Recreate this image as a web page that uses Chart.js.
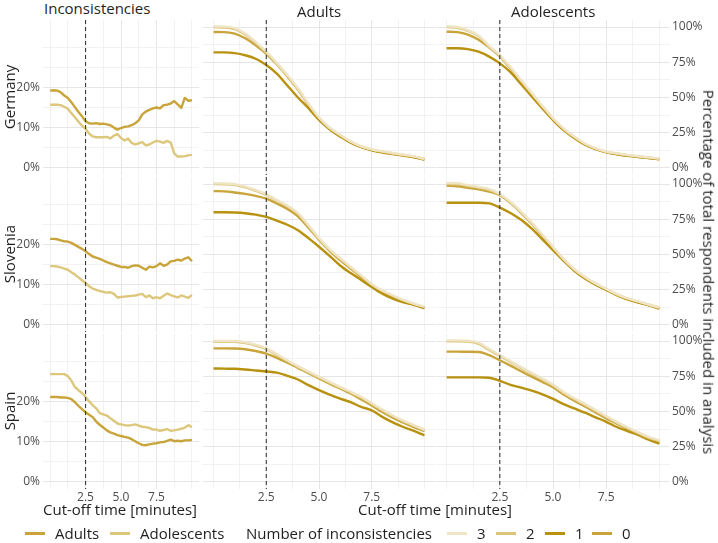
<!DOCTYPE html>
<html><head><meta charset="utf-8">
<script src="https://cdn.jsdelivr.net/npm/chart.js@4"></script>
<style>
html,body{margin:0;padding:0;background:#fff;}
body{width:718px;height:543px;position:relative;overflow:hidden;font-family:'Open Sans',sans-serif;}
canvas{position:absolute;}
.t{position:absolute;white-space:nowrap;color:#1f1f1f;font-size:15px;line-height:18px;}
.sw{position:absolute;width:20px;height:2.5px;}
</style></head><body>
<script>
// ---------- data ----------
const cutoffFine = [0,0.25,0.5,0.75,1,1.25,1.5,1.75,2,2.25,2.5,2.75,3,3.25,3.5,3.75,4,4.25,4.5,4.75,5,5.25,5.5,5.75,6,6.25,6.5,6.75,7,7.25,7.5,7.75,8,8.25,8.5,8.75,9,9.25,9.5,9.75,10];
const cutoffCoarse = [0,0.5,1,1.5,2,2.5,3,3.5,4,4.5,5,5.5,6,6.5,7,7.5,8,8.5,9,9.5,10];
const cutoffMarker = 2.5;
const xTickValues = [2.5,5,7.5];
const xTickLabels = ['2.5','5.0','7.5'];
const leftTickValues = [0,10,20];
const leftTickLabels = ['0%','10%','20%'];
const rightTickValues = [0,25,50,75,100];
const rightTickLabels = ['0%','25%','50%','75%','100%'];
const countries = ['Germany','Slovenia','Spain'];
const groups = ['Adults','Adolescents'];
const inconsistencyLevels = ['3','2','1','0'];

// Inconsistencies (% of respondents) by cut-off time
const deAdultsIncons = [19.2,19.3,19.2,18.8,18.0,17.4,16.3,15.1,13.9,12.8,11.6,11.1,11.0,11.1,10.9,11.0,10.8,10.6,10.0,9.5,9.9,10.2,10.3,10.6,11.1,11.8,13.3,14.0,14.4,14.8,15.0,14.8,15.6,15.7,16.0,16.6,15.8,14.9,17.4,16.7,16.8];
const deAdolIncons = [15.7,15.7,15.7,15.6,15.2,14.7,13.6,12.6,11.5,10.5,9.7,8.5,7.8,7.6,7.6,7.6,7.7,7.3,8.0,8.4,7.4,6.8,7.3,6.2,5.8,6.1,6.4,5.6,5.8,6.3,6.7,6.5,6.2,6.7,6.3,3.6,2.8,2.8,2.9,3.1,3.2];
const siAdultsIncons = [21.4,21.4,21.3,21.0,20.8,20.7,20.4,19.9,19.4,18.9,18.3,17.6,17.0,16.7,16.4,16.0,15.6,15.3,15.0,14.7,14.4,14.4,14.2,14.6,14.8,14.7,14.2,13.7,14.5,14.3,14.6,15.3,14.7,15.0,15.8,15.9,16.2,16.0,16.5,16.8,15.8];
const siAdolIncons = [14.6,14.6,14.5,14.3,14.0,13.7,13.1,12.5,11.8,11.1,10.4,9.6,9.0,8.7,8.4,8.2,8.0,8.1,7.7,6.8,6.9,7.0,7.1,7.2,7.3,7.5,7.7,6.9,7.3,6.6,6.9,6.6,7.2,7.8,7.4,7.1,6.8,7.3,7.0,6.7,7.4];
const esAdultsIncons = [21.1,21.1,21.1,21.0,21.0,20.9,20.6,19.8,18.9,18.1,17.3,16.7,16.1,15.0,14.2,13.5,12.8,12.3,12.0,11.6,11.4,11.2,11.0,10.6,10.1,9.6,9.2,9.1,9.3,9.5,9.6,9.8,9.9,10.2,10.5,10.1,10.2,10.1,10.3,10.3,10.4];
const esAdolIncons = [26.8,26.8,26.8,26.8,26.8,26.3,25.2,23.6,22.8,22.1,21.1,20.0,19.1,18.3,17.1,16.8,16.5,15.8,15.2,14.5,14.3,14.1,14.0,14.1,14.3,14.0,13.7,13.6,13.4,13.0,13.0,12.7,12.9,13.1,12.7,12.8,13.0,13.2,13.5,14.1,13.6];

// Percentage of total respondents included, by number of inconsistencies
const deAdults3 = [100.4,100.3,99.3,95.5,89.5,82.5,74.6,66.0,56.6,45.7,35.9,28.7,23.6,18.9,15.5,13.3,11.8,10.6,9.5,8.2,6.5];
const deAdults2 = [99.8,99.7,98.6,94.8,88.8,82.0,74.1,65.5,56.1,45.2,35.5,28.3,23.2,18.6,15.2,13.0,11.5,10.3,9.2,8.0,6.3];
const deAdults1 = [82.0,82.0,81.5,80.0,77.5,73.1,67.0,58.5,50.0,42.5,34.1,27.5,22.3,18.0,14.7,12.5,11.0,9.8,8.8,7.6,6.0];
const deAdults0 = [96.5,96.4,95.3,92.0,87.0,81.0,73.6,65.0,55.6,44.8,35.2,28.0,22.9,18.4,15.0,12.8,11.3,10.1,9.0,7.8,6.1];
const deAdol3 = [100.5,100.0,97.8,94.0,86.6,80.1,71.6,62.4,53.3,44.2,35.4,28.1,22.3,17.4,14.1,11.7,10.4,9.3,8.4,7.5,6.7];
const deAdol2 = [100.0,99.5,97.3,93.5,86.0,79.6,71.0,61.8,52.7,43.6,34.9,27.6,21.9,17.0,13.8,11.4,10.1,9.0,8.1,7.3,6.5];
const deAdol1 = [84.9,85.0,84.3,82.5,79.0,74.2,68.0,59.5,50.8,42.3,34.0,26.8,21.2,16.5,13.3,11.0,9.7,8.6,7.8,7.0,6.2];
const deAdol0 = [96.7,96.4,94.7,91.0,85.5,79.2,70.6,61.4,52.2,43.1,34.5,27.2,21.5,16.8,13.6,11.2,9.9,8.8,7.9,7.1,6.3];
const siAdults3 = [100.5,100.4,99.9,98.2,95.8,92.9,88.8,84.7,79.5,70.8,61.7,53.8,47.4,41.3,35.2,29.1,24.5,21.1,17.8,15.2,12.9];
const siAdults2 = [100.0,99.9,99.4,97.7,95.2,92.3,88.2,84.1,78.9,70.2,61.1,53.2,46.9,40.8,34.8,28.7,24.1,20.7,17.4,14.9,12.6];
const siAdults1 = [80.0,80.0,79.8,79.3,78.3,76.7,74.0,71.1,67.2,61.6,55.5,49.0,42.2,36.8,31.9,26.9,22.2,18.6,16.0,14.3,11.9];
const siAdults0 = [95.0,94.8,94.0,93.0,91.6,89.6,86.2,82.3,77.1,69.1,60.5,52.6,46.0,40.0,34.0,28.1,23.6,19.6,16.5,14.3,12.4];
const siAdol3 = [100.7,100.6,99.3,98.0,96.5,92.9,87.5,80.5,72.7,64.1,55.5,46.9,39.7,34.1,29.5,25.7,21.9,19.0,16.7,14.5,12.4];
const siAdol2 = [100.0,99.9,98.6,97.4,95.7,92.4,87.0,80.0,72.2,63.7,55.0,46.5,39.3,33.8,29.2,25.4,21.7,18.7,16.5,14.4,12.2];
const siAdol1 = [86.7,86.7,86.7,86.7,86.3,83.3,79.5,74.6,68.3,60.7,53.1,45.5,38.5,33.0,28.6,24.9,21.2,18.2,15.9,13.9,11.6];
const siAdol0 = [98.8,98.4,97.3,96.2,94.6,92.1,86.6,79.6,71.8,63.2,54.5,46.0,38.9,33.4,28.8,25.0,21.3,18.4,16.2,14.1,12.0];
const esAdults3 = [100.0,100.0,100.0,99.1,97.4,94.8,90.8,86.4,82.2,78.4,74.7,71.0,67.5,64.1,60.4,56.0,51.4,47.2,43.5,40.4,37.2];
const esAdults2 = [99.5,99.5,99.4,98.5,96.8,94.2,90.2,85.8,81.6,77.8,74.1,70.4,66.9,63.5,59.8,55.4,50.8,46.6,42.9,39.8,36.6];
const esAdults1 = [80.5,80.4,80.3,79.8,79.1,78.4,77.6,75.3,72.7,68.7,65.2,62.0,59.2,56.6,53.3,50.8,46.2,42.3,39.0,36.2,33.1];
const esAdults0 = [94.8,94.8,94.7,94.2,92.9,91.1,88.1,84.6,81.0,77.2,73.5,69.8,66.3,62.8,58.6,54.3,49.6,45.6,42.0,38.9,36.1];
const esAdol3 = [100.5,100.5,100.3,98.8,94.3,90.1,85.8,81.5,77.4,73.3,69.1,63.9,59.4,55.4,51.1,46.8,42.6,38.8,35.3,32.0,29.6];
const esAdol2 = [99.8,99.8,99.6,98.0,93.6,89.4,85.1,80.8,76.7,72.6,68.4,63.2,58.7,54.7,50.3,46.1,41.9,38.1,34.6,31.2,28.9];
const esAdol1 = [74.2,74.2,74.2,74.2,74.0,71.8,68.9,66.9,64.8,62.2,59.0,55.2,52.2,49.2,45.9,42.7,39.0,36.1,33.4,30.0,27.2];
const esAdol0 = [92.5,92.5,92.4,92.2,90.0,86.4,82.6,78.6,74.7,71.0,67.2,62.1,57.6,53.6,49.4,45.1,41.3,37.5,33.9,30.3,27.7];

// ---------- styling ----------
const groupColors = {Adults:'#C9A43A', Adolescents:'#DDC77C'};
const levelColors = {'3':'#EFE5C6','2':'#DCC57A','1':'#B8910F','0':'#C9A43A'};
const FONT = "'Open Sans', sans-serif";
const TICK_COLOR = '#4D4D4D';
const xGridValues = [0,1.25,2.5,3.75,5,6.25,7.5,8.75,10];
const leftGridValues = [0,5,10,15,20,25,30];
const rightGridValues = [0,12.5,25,37.5,50,62.5,75,87.5,100];

const cols = { L:{left:0, axis:43, width:156}, M:{left:203, axis:0, width:232}, R:{left:436, axis:48, width:234} };
const rowTops = [20,177,334];
const PANEL_H = 155;
const XAXIS_H = 24;

const cutoffPlugin = {
  id:'cutoffLine',
  afterDatasetsDraw(chart){
    const {ctx, chartArea, scales} = chart;
    const px = scales.x.getPixelForValue(cutoffMarker);
    ctx.save();
    ctx.strokeStyle = '#3a3a3a'; ctx.lineWidth = 1.1; ctx.setLineDash([4,3]);
    ctx.beginPath(); ctx.moveTo(px, chartArea.top); ctx.lineTo(px, chartArea.bottom); ctx.stroke();
    ctx.restore();
  }
};

function zeroPad(s){ s.paddingLeft = 0; s.paddingRight = 0; s.paddingTop = 0; s.paddingBottom = 0; }
function gridColorFor(majors){ return c => (c.tick && majors.includes(c.tick.value)) ? '#E6E6E6' : '#F0F0F0'; }
function labelFor(values, labels){ return v => { const i = values.indexOf(v); return i >= 0 ? labels[i] : ''; }; }

function makePanel(col, row, datasets, yKind){
  const c = cols[col];
  const showX = row === 2;
  const canvas = document.createElement('canvas');
  const w = c.axis + c.width;
  const h = PANEL_H + (showX ? XAXIS_H : 0);
  canvas.width = w; canvas.height = h;
  canvas.style.left = c.left + 'px'; canvas.style.top = rowTops[row] + 'px';
  canvas.style.width = w + 'px'; canvas.style.height = h + 'px';
  document.body.appendChild(canvas);
  const isLeft = yKind === 'left';
  const yMin = isLeft ? -1.8 : -5, yMax = isLeft ? 36.8 : 105;
  const yGrid = isLeft ? leftGridValues : rightGridValues;
  const yMajor = isLeft ? leftTickValues : rightTickValues;
  const yLabels = isLeft ? leftTickLabels : rightTickLabels;
  const showY = col !== 'M';
  new Chart(canvas, {
    type:'line',
    data:{ datasets },
    options:{
      responsive:false, animation:false, devicePixelRatio:1,
      layout:{ padding:0 },
      plugins:{ legend:{display:false}, title:{display:false}, tooltip:{enabled:false} },
      elements:{ point:{ radius:0 } },
      scales:{
        x:{
          type:'linear', min:-0.5, max:10.5,
          afterBuildTicks: s => { s.ticks = xGridValues.map(v => ({value:v})); },
          ticks:{ display:showX, autoSkip:false, maxRotation:0, padding:1, color:TICK_COLOR,
                  font:{family:FONT, size:12}, callback: labelFor(xTickValues, xTickLabels) },
          grid:{ drawTicks:false, color: gridColorFor(xTickValues), lineWidth: c2 => (c2.tick && xTickValues.includes(c2.tick.value)) ? 1 : 0.9 },
          border:{ display:false },
          afterFit: s => { s.height = showX ? XAXIS_H : 0; zeroPad(s); }
        },
        y:{
          type:'linear', min:yMin, max:yMax, position: col === 'R' ? 'right' : 'left',
          afterBuildTicks: s => { s.ticks = yGrid.map(v => ({value:v})); },
          ticks:{ display:showY, autoSkip:false, padding: col === 'R' ? 2 : 3, color:TICK_COLOR,
                  font:{family:FONT, size:12}, callback: labelFor(yMajor, yLabels) },
          grid:{ drawTicks:false, color: gridColorFor(yMajor), lineWidth: c2 => (c2.tick && yMajor.includes(c2.tick.value)) ? 1 : 0.9 },
          border:{ display:false },
          afterFit: s => { s.width = c.axis; zeroPad(s); }
        }
      }
    },
    plugins:[cutoffPlugin]
  });
}

function series(xs, ys, color, smooth){
  return { data: xs.map((x,i) => ({x, y: ys[i]})), borderColor: color, borderWidth: 2.4,
           pointRadius:0, fill:false, tension: 0, cubicInterpolationMode: smooth ? 'monotone' : 'default',
           borderJoinStyle:'round', borderCapStyle:'butt' };
}

const inconsByCountry = [
  [deAdultsIncons, deAdolIncons],
  [siAdultsIncons, siAdolIncons],
  [esAdultsIncons, esAdolIncons]
];
const includedByCountry = [
  { Adults:[deAdults3, deAdults2, deAdults1, deAdults0], Adolescents:[deAdol3, deAdol2, deAdol1, deAdol0] },
  { Adults:[siAdults3, siAdults2, siAdults1, siAdults0], Adolescents:[siAdol3, siAdol2, siAdol1, siAdol0] },
  { Adults:[esAdults3, esAdults2, esAdults1, esAdults0], Adolescents:[esAdol3, esAdol2, esAdol1, esAdol0] }
];

for (let r = 0; r < 3; r++){
  makePanel('L', r, [
    series(cutoffFine, inconsByCountry[r][0], groupColors.Adults, false),
    series(cutoffFine, inconsByCountry[r][1], groupColors.Adolescents, false)
  ], 'left');
  groups.forEach((g, gi) => {
    const arrs = includedByCountry[r][g];
    const ds = inconsistencyLevels.map((lv, i) => series(cutoffCoarse, arrs[i], levelColors[lv], true));
    makePanel(gi === 0 ? 'M' : 'R', r, ds, 'right');
  });
}

// ---------- text ----------
function addText(txt, cx, cy, opts = {}){
  const d = document.createElement('div');
  d.className = 't';
  d.textContent = txt;
  if (opts.size) d.style.fontSize = opts.size + 'px';
  if (opts.color) d.style.color = opts.color;
  document.body.appendChild(d);
  const w = d.offsetWidth, h = d.offsetHeight;
  if (opts.alignLeft){ d.style.left = cx + 'px'; } else { d.style.left = (cx - w/2) + 'px'; }
  d.style.top = (cy - h/2) + 'px';
  if (opts.rotate) d.style.transform = 'rotate(' + opts.rotate + 'deg)';
  return d;
}
addText('Inconsistencies', 44, 8, {alignLeft:true});
addText(groups[0], 319, 11);
addText(groups[1], 553, 11);
const rowCenters = [97, 254, 411];
countries.forEach((c, i) => addText(c, 9, rowCenters[i], {rotate:-90}));
addText('Percentage of total respondents included in analysis', 709, 272, {rotate:90});
addText('Cut-off time [minutes]', 120, 509);
addText('Cut-off time [minutes]', 435, 509);

// legend
function swatch(x, color){
  const s = document.createElement('div'); s.className = 'sw';
  s.style.left = x + 'px'; s.style.top = '532px'; s.style.background = color;
  document.body.appendChild(s);
}
swatch(25, groupColors.Adults); addText(groups[0], 55, 533, {alignLeft:true});
swatch(110, groupColors.Adolescents); addText(groups[1], 140, 533, {alignLeft:true});
addText('Number of inconsistencies', 246, 533, {alignLeft:true});
const legendX = [447, 496, 545, 592];
inconsistencyLevels.forEach((lv, i) => { swatch(legendX[i], levelColors[lv]); addText(lv, legendX[i] + 30, 533, {alignLeft:true}); });
</script>
</body></html>
